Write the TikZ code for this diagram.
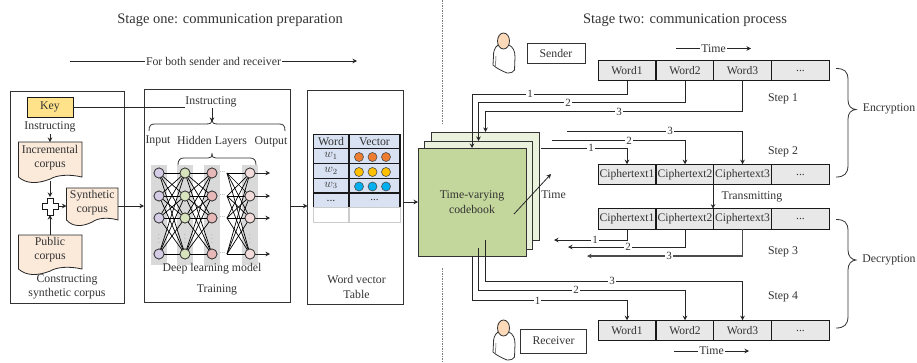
\documentclass[tikz,border=0pt]{standalone}
\usepackage{fontspec}
\setmainfont{Liberation Serif}
\usetikzlibrary{arrows.meta,calc}
\definecolor{ink}{HTML}{333333}
\definecolor{peach}{HTML}{FBE9DA}
\definecolor{keyy}{HTML}{FFE28A}
\definecolor{cellg}{HTML}{E8E8E8}
\definecolor{bandg}{HTML}{D9D9D9}
\definecolor{tabb}{HTML}{D9E2F3}
\definecolor{cbfront}{HTML}{C3D69B}
\definecolor{cbback}{HTML}{EAF1DD}
\definecolor{inpc}{HTML}{D5CCE6}
\definecolor{hidc}{HTML}{D6E3BC}
\definecolor{hidr}{HTML}{E6B8B7}
\definecolor{outc}{HTML}{F2DCDB}
\newcommand{\tdots}{...}
\tikzset{
 txt/.style={inner sep=0pt,outer sep=0pt,text=ink,font=\fontsize{11.8}{14.3}\selectfont,align=center},
 big/.style={txt,font=\fontsize{14.5}{17}\selectfont},
 wire/.style={draw=black!85,line width=.8pt},
 arr/.style={wire,-{Stealth[length=4.5pt,width=4.5pt]}},
 panel/.style={draw=black!80,line width=.9pt,fill=white,inner sep=0pt,outer sep=0pt},
 cell/.style={draw=black!90,line width=1.4pt,fill=cellg,inner sep=0pt,outer sep=0pt,minimum width=57.5pt,minimum height=20.5pt,text=ink,font=\fontsize{11.6}{13}\selectfont},
 lab/.style={fill=white,inner sep=1pt,text=ink,font=\fontsize{11}{12}\selectfont},
 page/.style={draw=black!80,line width=1pt,inner sep=0pt,outer sep=0pt,minimum width=108pt,minimum height=108pt},
 tc/.style={draw=black!90,line width=1.1pt,fill=tabb,inner sep=0pt,outer sep=0pt,text=ink,font=\fontsize{11.8}{13}\selectfont},
 dotc/.style={circle,draw=black!70,line width=.6pt,minimum size=9pt,inner sep=0pt,outer sep=0pt},
 neu/.style={circle,draw=black!80,line width=.7pt,minimum size=10pt,inner sep=0pt,outer sep=0pt},
 band/.style={fill=bandg,draw=none,inner sep=0pt,outer sep=0pt,minimum width=16pt,minimum height=100pt},
 sep/.style={draw=black!50,line width=1pt,dash pattern=on 1.5pt off 1pt},
 brace/.style={draw=black!80,line width=.8pt},
}
% #1 left, #2 top, #3 right, #4 straight bottom of the right edge
\newcommand{\docshape}[4]{%
 \draw[draw=black!85,line width=.8pt,fill=peach] (#1,#2) -- (#3,#2) -- (#3,#4)
   .. controls ($(#3,#4)+(-.2*#3+.2*#1,-3)$) and ($(#3,#4)+(-.4*#3+.4*#1,-2)$) .. ($(#1,#4)!.5!(#3,#4)+(0,2)$)
   .. controls ($(#1,#4)+(.3*#3-.3*#1,7)$) and ($(#1,#4)+(.12*#3-.12*#1,7)$) .. (#1,#4) -- cycle;}
% person at (#1,#2) = top-left
\newcommand{\personfig}[2]{%
 \begin{scope}[shift={(#1,#2)}]
 \draw[draw=black!80,line width=.8pt,fill=white]
   (5,13) .. controls (1,16) and (.5,20) .. (.5,24) -- (0,33) .. controls (3,36) and (9,39) .. (14,41)
   .. controls (18,41) and (21,40) .. (21.5,38) -- (22,25) .. controls (22,19) and (20,15) .. (16,13) -- cycle;
 \draw[draw=black!70,line width=.5pt] (3,24) -- (2.5,34);
 \draw[draw=black!80,line width=.8pt,fill=peach!85!orange] (10.5,9) ellipse (6 and 8);
 \end{scope}}
\begin{document}
\begin{tikzpicture}[x=1pt,y=-1pt]
\useasboundingbox (0,0) rectangle (917,362);
\fill[white] (0,0) rectangle (917,362);

% titles
\node[big] (t1) at (230,20) {Stage one: communication preparation};
\node[big] (t2) at (685,20) {Stage two: communication process};
\coordinate (fbL) at (70,61);
\coordinate (fbR) at (357,61);
\node[txt,fill=white,inner xsep=1pt] (fb) at (213.5,61) {For both sender and receiver};
\draw[wire] (fbL) -- (fb.west);
\draw[arr] (fb.east) -- (fbR);

% separator
\coordinate (sa) at (442,0); \coordinate (sb) at (442,123);
\coordinate (sc) at (442,268); \coordinate (sd) at (442,362);
\draw[sep] (sa) -- (sb);
\draw[sep] (sc) -- (sd);

% panels
\node[panel,minimum width=114.5pt,minimum height=212pt] (p1) at (67.25,197) {};
\node[panel,minimum width=146pt,minimum height=213pt] (p2) at (217,195.5) {};
\node[panel,minimum width=95.5pt,minimum height=214pt] (p3) at (355.25,197) {};

% --- left panel
\node[draw=black!90,line width=1pt,fill=keyy,inner sep=0pt,outer sep=0pt,minimum width=46pt,minimum height=20pt,text=ink,font=\fontsize{11.8}{13}\selectfont] (key) at (50,107) {Key};
\node[txt] (ins1) at (50,127) {Instructing};
\coordinate (ia) at (50,134);
\docshape{18.5}{142}{82}{177}
\docshape{66.5}{188}{118}{220}
\docshape{18.5}{235}{82}{269}
\node[txt,minimum width=63pt,minimum height=36pt] (inc) at (50,158) {Incremental\\corpus};
\node[txt,minimum width=52pt,minimum height=32pt] (syn) at (92.25,202.5) {Synthetic\\corpus};
\node[txt,minimum width=63pt,minimum height=36pt] (pub) at (50,250) {Public\\corpus};
\coordinate (inct) at (50,142);
\coordinate (incb) at (50,181);
\coordinate (pubt) at (50,235);
\coordinate (synL) at (66.5,206);
\coordinate (synR) at (118,206);
\node[inner sep=0pt,outer sep=0pt,minimum width=16pt,minimum height=18pt] (plus) at (50,206) {};
\draw[arr] (ia) -- (inct);
\draw[arr] (incb) -- (plus.north);
\draw[arr] (pubt) -- (plus.south);
\draw[arr] (plus.east) -- (synL);
\draw[draw=black!90,line width=.9pt,fill=white] (47,198) -- (53,198) -- (53,203) -- (58,203) -- (58,209) -- (53,209) -- (53,215) -- (47,215) -- (47,209) -- (42,209) -- (42,203) -- (47,203) -- cycle;
\node[txt] (con) at (67,287) {Constructing\\synthetic corpus};

% --- training panel
\node[txt] (ins2) at (211,102) {Instructing};
\coordinate (instop) at (212,108);
\coordinate (bt) at (212,122);
\draw[wire] (key.east) -- (key.east -| ins2.west);
\draw[arr] (instop) -- (bt);
\draw[brace] (149,131) .. controls (149,125) and (151,124) .. (155,124) -- (206,124) .. controls (210,124) and (212,123) .. (212,121)
   .. controls (212,123) and (214,124) .. (218,124) -- (279,124) .. controls (283,124) and (285,125) .. (285,131);
\node[txt] (il) at (158,141) {Input};
\node[txt] (hl) at (212,142) {Hidden Layers};
\node[txt] (ol) at (271,142) {Output};
\draw[brace] (178,165) .. controls (178,160) and (180,158) .. (184,158) -- (208,158) .. controls (211,158) and (212,157) .. (212,153)
   .. controls (212,157) and (213,158) .. (216,158) -- (250,158) .. controls (254,158) and (256,160) .. (256,165);
\node[band] (b1) at (159,215) {};
\node[band] (b2) at (185,215) {};
\node[band] (b3) at (212,215) {};
\node[band] (b4) at (250,215) {};
\foreach \c/\x/\f in {1/159/inpc,2/185/hidc,3/212/hidr,4/250/outc}{
  \foreach \r/\y in {1/173,2/196,3/218,4/254}{
    \node[neu,fill=\f] (n\c\r) at (\x,\y) {};
  }
  \node[txt,text=black!45,font=\fontsize{7}{7}\selectfont] (vd\c) at (\x,236) {$\vdots$};
}
\foreach \r/\y in {1/173,2/196,3/218,4/254}{
  \foreach \s/\z in {1/173,2/196,3/218,4/254}{
    \draw[draw=black,line width=.7pt] (n1\r) -- (n2\s);
    \draw[draw=black,line width=.7pt] (n2\r) -- (n3\s);
  }
  \coordinate (g\r) at (227,\y);
  \coordinate (e\r) at (270,\y);
  \draw[arr] (n4\r) -- (e\r);
  \node[txt,text=black!55,font=\fontsize{7}{7}\selectfont] (dd\r) at (222.5,\y-1) {\tdots};
}
\foreach \r in {1,2,3,4}{
  \foreach \s in {1,2,3,4}{
    \draw[draw=black,line width=.7pt] (g\r) -- (n4\s);
  }
}
\foreach \c/\x/\f in {1/159/inpc,2/185/hidc,3/212/hidr,4/250/outc}{
  \foreach \r/\y in {1/173,2/196,3/218,4/254}{
    \node[neu,fill=\f] at (\x,\y) {};
  }
}
\node[txt] (dlm) at (212,269) {Deep learning model};
\node[txt] (trn) at (217,290) {Training};

% --- word table
\node[tc,minimum width=35.5pt,minimum height=14.5pt] (th1) at (331,141.5) {Word};
\node[tc,minimum width=51pt,minimum height=14.5pt] (th2) at (374.5,141.5) {Vector};
\foreach \i/\y/\lbl in {1/156/$w_1$,2/171/$w_2$,3/185.5/$w_3$,4/200.5/\tdots}{
  \node[tc,minimum width=35.5pt,minimum height=14.8pt] (tw\i) at (331,\y) {\lbl};
  \node[tc,minimum width=51pt,minimum height=14.8pt] (tv\i) at (374.5,\y) {};
}
\node[font=\fontsize{11}{13}\selectfont,text=ink,inner sep=0pt] at (tv4) {\tdots};
\node[draw=black!20,line width=1pt,minimum width=35.5pt,minimum height=14.5pt,inner sep=0pt,outer sep=0pt] (tw5) at (331,215) {};
\node[draw=black!20,line width=1pt,minimum width=51pt,minimum height=14.5pt,inner sep=0pt,outer sep=0pt] (tv5) at (374.5,215) {};
\foreach \i/\f in {1/ED7D31,2/FFC000,3/00B0F0}{
  \definecolor{dc}{HTML}{\f}
  \node[dotc,fill=dc] (d\i a) at ($(tv\i)+(-15.5,1)$) {};
  \node[dotc,fill=dc] (d\i b) at ($(tv\i)+(-2,1)$) {};
  \node[dotc,fill=dc] (d\i c) at ($(tv\i)+(11.5,1)$) {};
}
\node[txt] (wvt) at (356.5,287) {Word vector\\Table};

% panel links
\draw[arr] (synR) -- (p2.west |- synR);
\coordinate (p2e) at (p2.east |- synR);
\draw[arr] (p2e) -- (p3.west |- p2e);

% --- codebook
\node[page,fill=cbback] (cb3) at (485,186) {};
\node[page,fill=cbback] (cb2) at (478.5,195) {};
\node[page,fill=cbfront] (cb1) at (472,202) {};
\node[txt] (cbt) at (472,202) {Time-varying\\codebook};
\draw[arr] (p3.east |- cb1.west) -- (cb1.west);
\coordinate (tA) at (514,214); \coordinate (tB) at (551,174);
\draw[arr] (tA) -- (tB);
\node[txt] (tt) at (553.5,195) {Time};

% --- people
\personfig{493}{32}
\personfig{493}{319}
\node[panel,minimum width=58pt,minimum height=19.5pt,text=ink,font=\fontsize{11.8}{13}\selectfont] (snd) at (556,53.5) {Sender};
\node[panel,minimum width=65.5pt,minimum height=24pt,text=ink,font=\fontsize{11.8}{13}\selectfont] (rcv) at (553.5,341) {Receiver};

% --- rows
\newcommand{\cellrow}[5]{%
  \node[cell] (#1a) at (627,#2) {#3};
  \node[cell] (#1b) at (685,#2) {#4};
  \node[cell] (#1c) at (742.5,#2) {#5};
  \node[cell] (#1d) at (800.5,#2) {...};}
\cellrow{ra}{70.5}{Word1}{Word2}{Word3}
\cellrow{rb}{174.5}{Ciphertext1}{Ciphertext2}{Ciphertext3}
\cellrow{rc}{219}{Ciphertext1}{Ciphertext2}{Ciphertext3}
\cellrow{rd}{330.5}{Word1}{Word2}{Word3}

% time
\coordinate (ttL) at (676,48.5); \coordinate (ttR) at (751,48.5);
\node[txt,fill=white,inner xsep=1pt] (ttt) at (713.5,48.5) {Time};
\draw[wire] (ttL) -- (ttt.west); \draw[arr] (ttt.east) -- (ttR);
\coordinate (tbL) at (674,351); \coordinate (tbR) at (749,351);
\node[txt,fill=white,inner xsep=1pt] (ttb) at (711.5,351) {Time};
\draw[wire] (tbL) -- (ttb.west); \draw[arr] (ttb.east) -- (tbR);

% step 1
\coordinate (s11) at (472,94); \coordinate (s12) at (478.5,102.5); \coordinate (s13) at (485.5,111.5);
\draw[arr] (raa.south) |- (s11) -- (s11 |- cb1.north);
\draw[arr] (rab.south) |- (s12) -- (s12 |- cb2.north);
\draw[arr] (rac.south) |- (s13) -- (s13 |- cb3.north);
\node[lab] at (530,94) {1};
\node[lab] at (568,102.5) {2};
\node[lab] at (619,111.5) {3};

% step 2
\coordinate (s21) at (541,148); \coordinate (s22) at (552,140.5); \coordinate (s23) at (567,131);
\draw[arr] (s21) -| (rba.north);
\draw[arr] (s22) -| (rbb.north);
\draw[arr] (s23) -| (rbc.north);
\node[lab] at (591,148) {1};
\node[lab] at (629,140.5) {2};
\node[lab] at (670,131) {3};

% transmit
\coordinate (trA) at (713,185); \coordinate (trB) at (713,208.7);
\draw[arr] (trA) -- (trB);
\node[txt] (trl) at (752,197) {Transmitting};

% step 3
\coordinate (s31) at (554,240); \coordinate (s32) at (568,247); \coordinate (s33) at (587,256);
\draw[arr] (rca.south) |- (s31);
\draw[arr] (rcb.south) |- (s32);
\draw[arr,line width=1.1pt,draw=black!70] (rcc.south) |- (s33);
\node[lab] at (595,240) {1};
\node[lab] at (628,247) {2};
\node[lab] at (669,256) {3};

% step 4
\coordinate (s41) at (472,300.5); \coordinate (s42) at (478.5,290); \coordinate (s43) at (485.5,281);
\coordinate (s42o) at (478.5,248); \coordinate (s43o) at (485.5,240);
\draw[arr] (s41 |- cb1.south) -- (s41) -| (rda.north);
\draw[arr] (s42o) -- (s42) -| (rdb.north);
\draw[arr] (s43o) -- (s43) -| (rdc.north);
\node[lab] at (537.5,300.5) {1};
\node[lab] at (576,290) {2};
\node[lab] at (612,281) {3};

% steps
\node[txt] (st1) at (783,98.5) {Step 1};
\node[txt] (st2) at (783,151.5) {Step 2};
\node[txt] (st3) at (783,251.5) {Step 3};
\node[txt] (st4) at (783,297) {Step 4};

% braces
\draw[brace] (836,68.5) .. controls (844,68.5) and (848,71) .. (848,80) -- (848,100) .. controls (848,106) and (851,109) .. (856,109.5)
  .. controls (851,110) and (848,113) .. (848,119) -- (848,165) .. controls (848,174) and (844,177) .. (836,177);
\node[txt] (enc) at (889,109) {Encryption};
\draw[brace] (836,219.5) .. controls (844,219.5) and (848,222) .. (848,231) -- (848,250) .. controls (848,256) and (851,259.5) .. (856,260)
  .. controls (851,260.5) and (848,264) .. (848,270) -- (848,316) .. controls (848,325) and (844,328) .. (836,328);
\node[txt] (dec) at (889,260) {Decryption};
\end{tikzpicture}
\end{document}
